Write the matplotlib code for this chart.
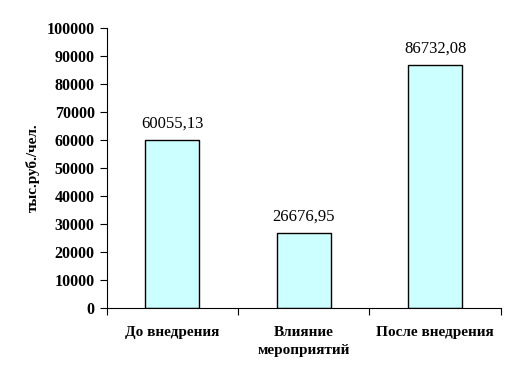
import matplotlib
matplotlib.use("Agg")
import matplotlib.pyplot as plt
import numpy as np

categories = ["До внедрения", "Влияние\nмероприятий", "После внедрения"]
values = [60055.13, 26676.95, 86732.08]
value_labels = ["60055,13", "26676,95", "86732,08"]
yticks = [0, 10000, 20000, 30000, 40000, 50000, 60000, 70000, 80000, 90000, 100000]

plt.rcParams['font.family'] = ['Liberation Serif', 'DejaVu Serif']

fig = plt.figure(figsize=(5.17, 3.81), dpi=100)
ax = fig.add_axes([0.206, 0.1916, 0.763, 0.7349])

x = np.arange(len(categories))
ax.bar(x, values, width=0.41, color="#CCFFFF", edgecolor="black", linewidth=1)
for xi, v, lab in zip(x, values, value_labels):
    ax.annotate(lab, (xi, v), xytext=(0, 6), textcoords="offset points",
                ha="center", va="bottom", fontsize=12)

ax.set_xlim(-0.5, len(categories) - 0.5)
ax.set_ylim(0, 100000)
ax.set_yticks(yticks)
ax.set_yticklabels([str(t) for t in yticks], fontsize=11.5, fontweight="bold")
ax.set_xticks(np.arange(len(categories) + 1) - 0.5)
ax.set_xticklabels([])
ax.set_xticks(x, minor=True)
ax.set_xticklabels(categories, minor=True, fontsize=11, fontweight="bold",
                   linespacing=1.5)
ax.tick_params(axis="x", which="minor", length=0, pad=13)
ax.tick_params(axis="x", which="major", length=5, direction="out")
ax.tick_params(axis="y", length=5, direction="out")
for s in ["top", "right"]:
    ax.spines[s].set_visible(False)
ax.set_ylabel("тыс.руб./чел.", fontsize=11, fontweight="bold", labelpad=5)

fig.savefig("out.png", dpi=100)
